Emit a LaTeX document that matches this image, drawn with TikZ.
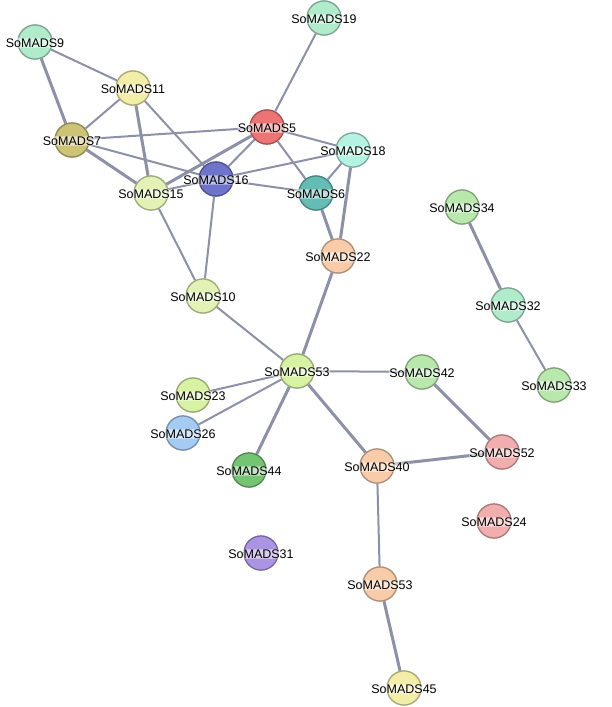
\documentclass[tikz,border=0pt]{standalone}
\usepackage{fontspec}
\setmainfont{Liberation Sans}
\usetikzlibrary{positioning}
\tikzset{>=stealth}
\definecolor{linkgray}{HTML}{8C90A8}
\tikzset{
  prot/.style={draw=#1!70!black, fill=#1, circle, minimum size=34pt, inner sep=0pt, line width=1.2pt},
  lab/.style={font=\fontsize{12.5}{13}\selectfont, inner sep=0.3pt, fill=white, fill opacity=0.55, text opacity=1, rounded corners=2pt},
  lnk/.style={draw=linkgray, line width=2pt},
  lnkthick/.style={lnk, line width=3pt}
}
\newcommand{\prot}[4]{%
  \node [prot=#4] (#1) at (#2pt,-#3pt) {};
}
\newcommand{\plab}[2]{%
  \node [lab] at ([yshift=-1pt]#1) {#2};
}
\begin{document}
\begin{tikzpicture}[x=1pt,y=1pt]
      \useasboundingbox (0,0) rectangle (612,-707);
      \definecolor{cmint}{HTML}{B0ECCC}
      \definecolor{cyel}{HTML}{F2EEA8}
      \definecolor{cred}{HTML}{EC7474}
      \definecolor{colive}{HTML}{CCC474}
      \definecolor{ccyan}{HTML}{B4F2E2}
      \definecolor{cblue}{HTML}{6E74CC}
      \definecolor{cteal}{HTML}{64BCB4}
      \definecolor{cpale}{HTML}{E2F2B4}
      \definecolor{cgreen}{HTML}{B8E8AC}
      \definecolor{cpeach}{HTML}{F8CCA8}
      \definecolor{cblu}{HTML}{A4CCF2}
      \definecolor{cpink}{HTML}{F2AEAE}
      \definecolor{cdgreen}{HTML}{74C474}
      \definecolor{cpurp}{HTML}{AC94E4}
      \definecolor{cyg}{HTML}{D8F2A4}

      % proteins
      \prot{s9}{35}{42}{cmint}
      \prot{s19}{324}{18}{cmint}
      \prot{s11}{133}{88}{cyel}
      \prot{s5}{267}{127}{cred}
      \prot{s7}{72}{140}{colive}
      \prot{s18}{353}{150}{ccyan}
      \prot{s16}{216}{179}{cblue}
      \prot{s6}{316}{193}{cteal}
      \prot{s15}{151}{193}{cpale}
      \prot{s34}{462}{207}{cgreen}
      \prot{s22}{338}{256}{cpeach}
      \prot{s10}{203}{296}{cpale}
      \prot{s32}{508}{305}{cmint}
      \prot{s53}{297}{371}{cyg}
      \prot{s42}{422}{372}{cgreen}
      \prot{s33}{554}{385}{cgreen}
      \prot{s23}{193}{395}{cyg}
      \prot{s26}{183}{433}{cblu}
      \prot{s52}{502}{452}{cpink}
      \prot{s44}{249}{470}{cdgreen}
      \prot{s40}{377}{466}{cpeach}
      \prot{s24}{494}{521}{cpink}
      \prot{s31}{261}{553}{cpurp}
      \prot{s53b}{380}{584}{cpeach}
      \prot{s45}{404}{688}{cyel}

      % links
      \draw[lnkthick] (s9) -- (s7);
      \draw[lnk] (s9) -- (s11);
      \draw[lnk] (s11) -- (s7);
      \draw[lnkthick] (s11) -- (s15);
      \draw[lnk] (s11) -- (s16);
      \draw[lnk] (s7) -- (s5);
      \draw[lnk] (s7) -- (s16);
      \draw[lnkthick] (s7) -- (s15);
      \draw[lnkthick] (s15) -- (s5);
      \draw[lnk] (s15) -- (s16);
      \draw[lnk] (s15) -- (s10);
      \draw[lnk] (s16) -- (s5);
      \draw[lnk] (s16) -- (s18);
      \draw[lnk] (s16) -- (s6);
      \draw[lnk] (s16) -- (s10);
      \draw[lnk] (s5) -- (s19);
      \draw[lnk] (s5) -- (s6);
      \draw[lnk] (s5) -- (s18);
      \draw[lnk] (s18) -- (s6);
      \draw[lnkthick] (s18) -- (s22);
      \draw[lnkthick] (s6) -- (s22);
      \draw[lnk] (s10) -- (s53);
      \draw[lnkthick] (s22) -- (s53);
      \draw[lnk] (s53) -- (s42);
      \draw[lnk] (s53) -- (s23);
      \draw[lnk] (s53) -- (s26);
      \draw[lnkthick] (s53) -- (s44);
      \draw[lnkthick] (s53) -- (s40);
      \draw[lnkthick] (s42) -- (s52);
      \draw[lnkthick] (s40) -- (s52);
      \draw[lnk] (s40) -- (s53b);
      \draw[lnkthick] (s53b) -- (s45);
      \draw[lnkthick] (s34) -- (s32);
      \draw[lnk] (s32) -- (s33);

      % redraw proteins over links
      \foreach \n/\c in {s9/cmint,s19/cmint,s11/cyel,s5/cred,s7/colive,s18/ccyan,
        s16/cblue,s6/cteal,s15/cpale,s34/cgreen,s22/cpeach,s10/cpale,s32/cmint,
        s53/cyg,s42/cgreen,s33/cgreen,s23/cyg,s26/cblu,s52/cpink,s44/cdgreen,
        s40/cpeach,s24/cpink,s31/cpurp,s53b/cpeach,s45/cyel}
        \node [prot=\c] at (\n) {};

      % labels
      \foreach \n/\t in {s9/SoMADS9,s19/SoMADS19,s11/SoMADS11,s5/SoMADS5,s7/SoMADS7,
        s18/SoMADS18,s16/SoMADS16,s6/SoMADS6,s15/SoMADS15,s34/SoMADS34,s22/SoMADS22,
        s10/SoMADS10,s32/SoMADS32,s53/SoMADS53,s42/SoMADS42,s33/SoMADS33,s23/SoMADS23,
        s26/SoMADS26,s52/SoMADS52,s44/SoMADS44,s40/SoMADS40,s24/SoMADS24,s31/SoMADS31,
        s53b/SoMADS53,s45/SoMADS45}
        \plab{\n}{\t};
    \end{tikzpicture}
\end{document}
